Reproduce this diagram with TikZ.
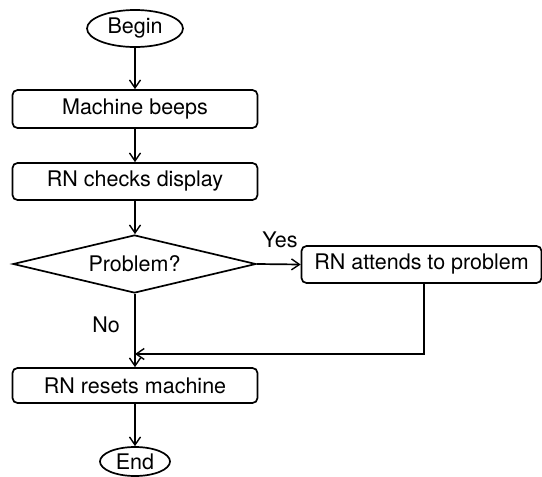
\documentclass[tikz,border=0pt]{standalone}
\usepackage{fontspec}
\setmainfont{TeX Gyre Heros}
\usetikzlibrary{shapes.geometric,arrows.meta}
\begin{document}
\begin{tikzpicture}[x=1pt,y=-1pt,
  every node/.style={font=\fontsize{21.5}{25}\selectfont, inner sep=0pt},
  line/.style={line width=1.7pt},
  flow/.style={line, -{Straight Barb[length=8pt,width=11pt,line width=1.4pt]}},
  terminal/.style={draw, line width=1.7pt, ellipse},
  stepbox/.style={draw, line width=1.7pt, rounded corners=5pt, minimum width=245pt},
  decision/.style={draw, line width=1.7pt, diamond, aspect=4.19, minimum width=243pt, minimum height=58pt},
  tag/.style={}]
\useasboundingbox (0,0) rectangle (542,477);

\node[terminal, minimum width=96pt, minimum height=37pt] (begin) at (135,28.5) {Begin};
\node[stepbox, minimum height=38pt] (beeps) at (135,109) {Machine beeps};
\node[stepbox, minimum height=37pt] (checks) at (135,181.5) {RN checks display};
\node[decision] (problem) at (134.5,264) {Problem?};
\node[draw, line width=1.7pt, rounded corners=5pt, minimum width=240pt, minimum height=37pt] (attends) at (421.5,264.5) {RN attends to problem};
\node[stepbox, minimum height=35pt] (resets) at (135,385.5) {RN resets machine};
\node[terminal, minimum width=70pt, minimum height=29pt] (end) at (135,461.5) {End};

\node[tag] (yes) at (280,240) {Yes};
\node[tag] (no) at (106,325) {No};

\coordinate (merge) at (135,354);

\draw[flow] (begin) -- (beeps);
\draw[flow] (beeps) -- (checks);
\draw[flow] (checks) -- (checks.south |- problem.north);
\draw[flow] (problem.east) -- (attends.west);
\draw[flow] (resets.north |- problem.south) -- (resets.north);
\draw[flow] (attends.south -| 424,0) |- (merge);
\draw[flow] (resets) -- (end);
\end{tikzpicture}
\end{document}
